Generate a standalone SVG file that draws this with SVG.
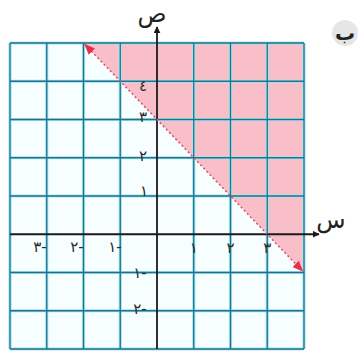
<svg xmlns="http://www.w3.org/2000/svg" width="358" height="353" viewBox="0 0 358 353">
<style>
.glow{stroke:#9ee6f0;stroke-width:3.2;fill:none}
.grid{stroke:#23708c;stroke-width:1.3;fill:none}
.axis{stroke:#1a1a1a;stroke-width:1.8;fill:none}
.lbl{font-family:"DejaVu Sans",sans-serif;font-size:15px;fill:#2a2a2a;text-anchor:middle}
.ax{font-family:"DejaVu Sans",sans-serif;font-size:24px;fill:#222;text-anchor:middle}
</style>
<defs>
<marker id="ah" viewBox="0 0 10 10" refX="9" refY="5" markerWidth="7" markerHeight="7" orient="auto-start-reverse" markerUnits="userSpaceOnUse">
<path d="M0,0 L10,5 L0,10 Z" fill="#1a1a1a"/>
</marker>
<marker id="rh" viewBox="0 0 10 10" refX="9" refY="5" markerWidth="11" markerHeight="11" orient="auto-start-reverse" markerUnits="userSpaceOnUse">
<path d="M0,1 L10,5 L0,9 Z" fill="#e8304a"/>
</marker>
</defs>
<rect width="358" height="353" fill="#ffffff"/>
<rect x="10" y="43" width="294" height="306" fill="#f7feff"/>
<polygon id="region" points="83.5,43 304,43 304,272.5" fill="#f8bfc9"/>
<g id="grid">
<path class="glow" d="M10,43V349M46.75,43V349M83.5,43V349M120.25,43V349M193.75,43V349M230.5,43V349M267.25,43V349M304,43V349M10,43H304M10,81.25H304M10,119.5H304M10,157.75H304M10,196H304M10,272.5H304M10,310.75H304M10,349H304"/>
<path class="grid" d="M10,43V349M46.75,43V349M83.5,43V349M120.25,43V349M193.75,43V349M230.5,43V349M267.25,43V349M304,43V349M10,43H304M10,81.25H304M10,119.5H304M10,157.75H304M10,196H304M10,272.5H304M10,310.75H304M10,349H304"/>
</g>
<g id="axes">
<line class="axis" x1="10" y1="234.25" x2="319" y2="234.25" marker-end="url(#ah)"/>
<line class="axis" x1="157" y1="349" x2="157" y2="27" marker-end="url(#ah)"/>
</g>
<g id="boundary">
<line x1="85" y1="44.5" x2="302.5" y2="271" stroke="#e0506a" stroke-width="1.6" stroke-dasharray="2,2.5" marker-start="url(#rh)" marker-end="url(#rh)"/>
</g>
<g id="labels">
<text class="ax" x="152" y="22">ص</text>
<text class="ax" x="331" y="228">س</text>
<circle cx="345" cy="33" r="13" fill="#e6e6e6"/>
<text x="345" y="40" font-family="DejaVu Sans,sans-serif" font-size="20" font-weight="bold" fill="#222" text-anchor="middle">ب</text>
<text class="lbl" x="143" y="91">٤</text>
<text class="lbl" x="143" y="122">٣</text>
<text class="lbl" x="143" y="161">٢</text>
<text class="lbl" x="144" y="196">١</text>
<text class="lbl" x="140" y="278">١-</text>
<text class="lbl" x="140" y="314">٢-</text>
<text class="lbl" x="40" y="252">٣-</text>
<text class="lbl" x="77" y="252">٢-</text>
<text class="lbl" x="115" y="252">١-</text>
<text class="lbl" x="193.75" y="253">١</text>
<text class="lbl" x="230.5" y="253">٢</text>
<text class="lbl" x="267.25" y="253">٣</text>
</g>
</svg>
